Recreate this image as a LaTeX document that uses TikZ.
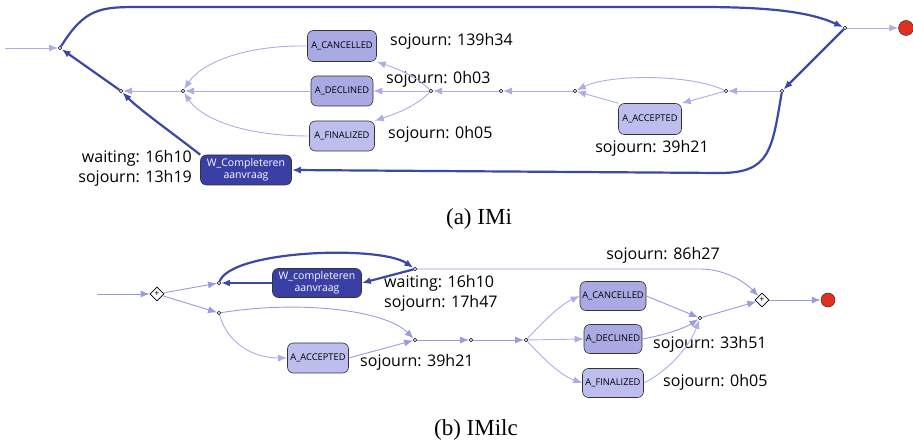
\documentclass[tikz,border=0pt]{standalone}
\usepackage{fontspec}
\setmainfont{Liberation Serif}
\newfontfamily\lblfont{Open Sans}
\usetikzlibrary{arrows.meta,shapes.geometric}
\definecolor{cLight}{HTML}{ADADE6}
\definecolor{cMid}{HTML}{9A9ADF}
\definecolor{cDark}{HTML}{3A48A8}
\definecolor{cActA}{HTML}{A9A9E3}
\definecolor{cActB}{HTML}{BDBDEE}
\definecolor{cW}{HTML}{3A3FA6}
\definecolor{cEnd}{HTML}{E03020}
\tikzset{
  act/.style={draw=black!80, rounded corners=6pt, align=center, inner sep=1pt,
    font=\lblfont\fontsize{9.3}{10}\selectfont, line width=0.6pt},
  actA/.style={act, fill=cActA},
  actB/.style={act, fill=cActB},
  wbox/.style={act, fill=cW, text=white, font=\lblfont\fontsize{10.5}{12.5}\selectfont},
  dot/.style={circle, draw=black, fill=white, inner sep=0pt, minimum size=3.5pt, line width=0.5pt},
  gate/.style={diamond, draw=black, fill=white, inner sep=0pt, minimum size=14pt, line width=0.7pt,
    font=\lblfont\fontsize{9}{9}\selectfont},
  sink/.style={circle, draw=black!80, fill=cEnd, inner sep=0pt, minimum size=15pt, line width=0.5pt},
  flow/.style={-{Latex[length=9pt,width=7pt]}, line width=0.9pt, draw=cLight},
  flowb/.style={flow, draw=cMid},
  strong/.style={-{Latex[length=9pt,width=7pt]}, line width=2.2pt, draw=cDark},
  lbl/.style={font=\lblfont\fontsize{16}{20}\selectfont, inner sep=0pt},
  subcap/.style={font=\fontsize{23}{25}\selectfont},
}
\begin{document}
\begin{tikzpicture}[x=1pt, y=-1pt]
  \useasboundingbox (0,0) rectangle (913,443);
  % (a) IMi
  \coordinate (inA) at (5,48);
  \node[dot] (t1) at (60,48) {};
  \node[dot] (t2) at (845,28) {};
  \node[sink] (end1) at (906,28) {};
  \node[dot] (t3) at (782,91) {};
  \node[dot] (t4) at (726,91) {};
  \node[actB, minimum width=63pt, minimum height=31pt] (acc1) at (650,119) {A\_ACCEPTED};
  \node[dot] (t5) at (575,91) {};
  \node[dot] (t6) at (501,91) {};
  \node[dot] (t7) at (431,91) {};
  \node[actA, minimum width=69pt, minimum height=31pt] (can1) at (342,46) {A\_CANCELLED};
  \node[actA, minimum width=62pt, minimum height=30pt] (dec1) at (342,91) {A\_DECLINED};
  \node[actB, minimum width=65pt, minimum height=30pt] (fin1) at (342,136) {A\_FINALIZED};
  \node[dot] (t8) at (183,91) {};
  \node[dot] (t9) at (121,91) {};
  \node[wbox, minimum width=91pt, minimum height=30pt] (w1) at (246,170) {W\_Completeren\\aanvraag};
  \node[lbl, anchor=west] (l1) at (390,41) {sojourn: 139h34};
  \node[lbl, anchor=west] (l2) at (386,79) {sojourn: 0h03};
  \node[lbl, anchor=west] (l3) at (388,134) {sojourn: 0h05};
  \node[lbl, anchor=north] (l4) at (652,140) {sojourn: 39h21};
  \node[lbl, anchor=east, align=right] (l5) at (192,168) {waiting: 16h10\\sojourn: 13h19};
  \draw[flow] (inA) -- (t1);
  \draw[strong] (t1) .. controls (85,8) and (100,7) .. (140,7) -- (700,7)
    .. controls (770,7) and (810,12) .. (t2);
  \draw[flow] (t2) -- (end1);
  \draw[strong] (t2) -- (t3);
  \draw[flow] (t3) -- (t4);
  \draw[flow] (t4) .. controls (690,74) and (610,74) .. (t5);
  \draw[flow] (t4) -- (acc1.north east);
  \draw[flow] (acc1.north west) -- (t5);
  \draw[flow] (t5) -- (t6);
  \draw[flow] (t6) -- (t7);
  \draw[flow] (t7) .. controls (415,75) and (395,68) .. (can1.south east);
  \draw[flow] (t7) -- (dec1);
  \draw[flow] (t7) .. controls (415,107) and (395,114) .. (fin1.north east);
  \draw[flow] (can1.west) .. controls (240,45) and (200,65) .. (t8);
  \draw[flow] (dec1) -- (t8);
  \draw[flow] (fin1.west) .. controls (240,136) and (200,117) .. (t8);
  \draw[flow] (t8) -- (t9);
  \draw[strong] (t9) -- (t1);
  \draw[strong] (w1.north west) .. controls (175,135) and (140,110) .. (t9);
  \draw[strong] (t3) .. controls (772,150) and (770,173) .. (720,173) -- (w1.east);
  \node[subcap] (capA) at (479,219) {(a) IMi};
  % (b) IMilc
  \coordinate (inB) at (97,294);
  \node[gate] (xA) at (157,294) {+};
  \node[dot] (b1) at (219,283) {};
  \node[dot] (b2) at (219,313) {};
  \node[dot] (b3) at (415,269) {};
  \node[wbox, minimum width=89pt, minimum height=29pt] (w2) at (317,283) {W\_completeren\\aanvraag};
  \node[actB, minimum width=61pt, minimum height=30pt] (acc2) at (318,358) {A\_ACCEPTED};
  \node[dot] (b4) at (415,340) {};
  \node[dot] (b5) at (471,340) {};
  \node[dot] (b6) at (526,340) {};
  \node[actA, minimum width=66pt, minimum height=29pt] (can2) at (613,296) {A\_CANCELLED};
  \node[actA, minimum width=58pt, minimum height=29pt] (dec2) at (613,339) {A\_DECLINED};
  \node[actB, minimum width=61pt, minimum height=29pt] (fin2) at (613,383) {A\_FINALIZED};
  \node[dot] (b7) at (700,318) {};
  \node[gate] (xB) at (762,300) {+};
  \node[sink, minimum size=14pt] (end2) at (828,300) {};
  \node[lbl, anchor=west, align=left] (l6) at (384,293) {waiting: 16h10\\sojourn: 17h47};
  \node[lbl] (l7) at (663,255) {sojourn: 86h27};
  \node[lbl, anchor=west] (l8) at (360,362) {sojourn: 39h21};
  \node[lbl, anchor=west] (l9) at (653,344) {sojourn: 33h51};
  \node[lbl, anchor=west] (l10) at (663,382) {sojourn: 0h05};
  \draw[flowb] (inB) -- (xA);
  \draw[flowb] (xA) -- (b1);
  \draw[flowb] (xA) -- (b2);
  \draw[strong] (b1) .. controls (232,250) and (380,245) .. (b3);
  \draw[strong] (b3) -- (w2.east);
  \draw[strong] (w2.west) -- (b1);
  \draw[flowb] (b3) -- (700,269) .. controls (725,269) and (745,282) .. (xB);
  \draw[flowb] (b2) .. controls (300,300) and (385,310) .. (b4);
  \draw[flow] (b2) .. controls (228,345) and (255,358) .. (acc2.west);
  \draw[flowb] (acc2.east) -- (b4);
  \draw[flowb] (b4) -- (b5);
  \draw[flowb] (b5) -- (b6);
  \draw[flow] (b6) .. controls (545,320) and (560,305) .. (can2.west);
  \draw[flow] (b6) -- (dec2.west);
  \draw[flow] (b6) .. controls (545,360) and (560,375) .. (fin2.west);
  \draw[flowb] (can2.east) -- (b7);
  \draw[flowb] (dec2.east) .. controls (665,335) and (685,328) .. (b7);
  \draw[flow] (fin2.east) .. controls (670,370) and (690,345) .. (b7);
  \draw[flowb] (b7) -- (xB);
  \draw[flowb] (xB) -- (end2);
  \node[subcap] (capB) at (476,430) {(b) IMilc};
\end{tikzpicture}
\end{document}
